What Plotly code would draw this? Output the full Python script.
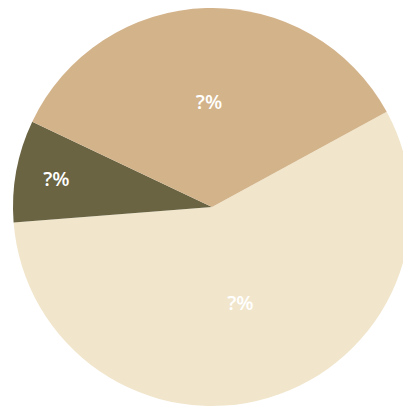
import plotly.graph_objects as go

categories = ["Cream", "Olive", "Tan"]
values = [56.7, 8.3, 35.0]
slice_text = ["?%", "?%", "?%"]
colors = ["#F1E6CC", "#6A6443", "#D3B38A"]

W, H = 411, 410
# page body has an 8px default margin, so offset the target centre
cx, cy, r = 204, 199, 199

fig = go.Figure(go.Pie(
    labels=categories,
    values=values,
    text=slice_text,
    texttemplate="%{text}",
    textinfo="text",
    textposition="inside",
    insidetextorientation="horizontal",
    sort=False,
    direction="clockwise",
    rotation=61.4,
    marker=dict(colors=colors, line=dict(width=0)),
    textfont=dict(color="white", size=20, family="Open Sans", weight=600),
    hole=0,
    domain=dict(x=[(cx - r) / W, (cx + r) / W], y=[(H - cy - r) / H, (H - cy + r) / H]),
))

fig.update_layout(
    width=W, height=H,
    margin=dict(l=0, r=0, t=0, b=0),
    showlegend=False,
    paper_bgcolor="white",
    plot_bgcolor="white",
    uniformtext=dict(minsize=20, mode="show"),
)

fig.write_html("out.html")
